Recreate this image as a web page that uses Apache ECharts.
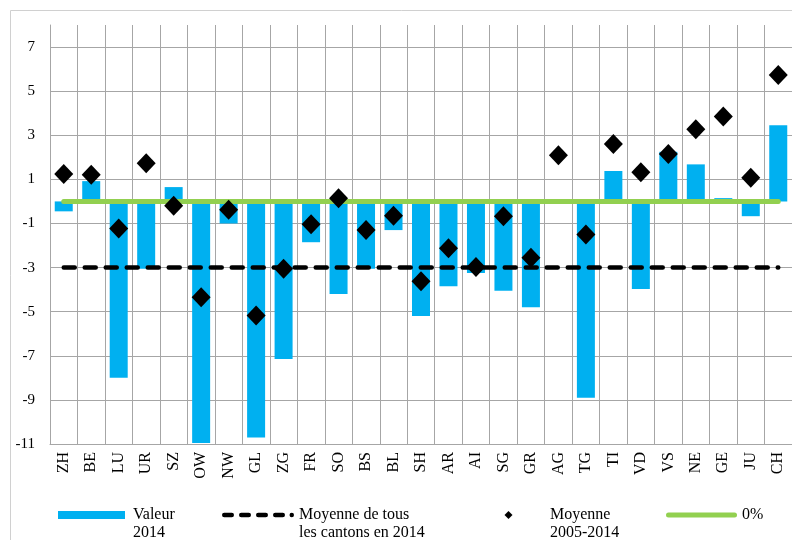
<!DOCTYPE html>
<html>
<head>
<meta charset="utf-8">
<script src="https://cdn.jsdelivr.net/npm/echarts@6/dist/echarts.min.js"></script>
<style>
html,body{margin:0;padding:0;background:#fff;}
#chart{width:792px;height:540px;}
</style>
</head>
<body>
<div id="chart"></div>
<script>
var cantons = ['ZH','BE','LU','UR','SZ','OW','NW','GL','ZG','FR','SO','BS','BL','SH','AR','AI','SG','GR','AG','TG','TI','VD','VS','NE','GE','JU','CH'];
var valeur2014 = [-0.45, 0.92, -8.0, -3.05, 0.65, -10.95, -1.0, -10.7, -7.15, -1.85, -4.2, -3.05, -1.3, -5.2, -3.85, -3.25, -4.05, -4.8, 0, -8.9, 1.38, -3.97, 2.25, 1.68, 0.15, -0.67, 3.45];
var moyenneCantons2014 = [-3, -3, -3, -3, -3, -3, -3, -3, -3, -3, -3, -3, -3, -3, -3, -3, -3, -3, -3, -3, -3, -3, -3, -3, -3, -3, -3];
var moyenne2005_2014 = [1.24, 1.21, -1.23, 1.73, -0.2, -4.34, -0.38, -5.17, -3.05, -1.03, 0.14, -1.3, -0.65, -3.62, -2.12, -2.97, -0.67, -2.55, 2.09, -1.5, 2.6, 1.32, 2.15, 3.27, 3.85, 1.07, 5.73];
var zeroLine = [0, 0, 0, 0, 0, 0, 0, 0, 0, 0, 0, 0, 0, 0, 0, 0, 0, 0, 0, 0, 0, 0, 0, 0, 0, 0, 0];
var seriesNames = ['Valeur\n2014', 'Moyenne de tous\nles cantons en 2014', 'Moyenne\n2005-2014', '0%'];

var FONT = 'Liberation Serif';
var GRID = '#a6a6a6';
var legendText = {fontFamily: FONT, fontSize: 16, color: '#000', lineHeight: 18};
function firstLineOnIcon(name) { return ' \n' + name; }

var chart = echarts.init(document.getElementById('chart'), null, {renderer: 'canvas'});
chart.setOption({
  animation: false,
  backgroundColor: '#fff',
  graphic: [{
    type: 'rect', silent: true, z: -10,
    shape: {x: 10.5, y: 10.5, width: 800, height: 600},
    style: {fill: 'none', stroke: '#d0d0d0', lineWidth: 1}
  }],
  grid: {left: 50, top: 25, width: 743, height: 419},
  legend: [
    {
      left: 58, top: 488, padding: 0, selectedMode: false,
      itemWidth: 67, itemHeight: 8, formatter: firstLineOnIcon,
      data: [{name: seriesNames[0], icon: 'rect', itemStyle: {borderWidth: 0}}],
      textStyle: Object.assign({}, legendText, {padding: [0, 0, 0, 3]})
    },
    {
      left: 222, top: 488, padding: 0, selectedMode: false,
      itemWidth: 72, itemHeight: 4.5, formatter: firstLineOnIcon,
      data: [{name: seriesNames[1], itemStyle: {borderWidth: 0, color: '#000'},
        icon: 'path://M2.25,0h7.5a2.25,2.25 0 0 1 0,4.5h-7.5a2.25,2.25 0 0 1 0,-4.5z M19.25,0h7.5a2.25,2.25 0 0 1 0,4.5h-7.5a2.25,2.25 0 0 1 0,-4.5z M36.25,0h7.5a2.25,2.25 0 0 1 0,4.5h-7.5a2.25,2.25 0 0 1 0,-4.5z M53.25,0h7.5a2.25,2.25 0 0 1 0,4.5h-7.5a2.25,2.25 0 0 1 0,-4.5z M69.75,0a2.25,2.25 0 1 1 0,4.5a2.25,2.25 0 1 1 0,-4.5z'}],
      textStyle: legendText
    },
    {
      left: 504.5, top: 488, padding: 0, selectedMode: false,
      itemWidth: 73, itemHeight: 8, formatter: firstLineOnIcon,
      data: [{name: seriesNames[2], itemStyle: {borderWidth: 0, color: '#000', opacity: 1},
        icon: 'path://M4,0L8,4L4,8L0,4Z'}],
      textStyle: legendText
    },
    {
      left: 666, top: 506, padding: 0, selectedMode: false,
      itemWidth: 71, itemHeight: 5,
      data: [{name: seriesNames[3], itemStyle: {borderWidth: 0, color: '#92d050'},
        icon: 'path://M2.5,0h66a2.5,2.5 0 0 1 0,5h-66a2.5,2.5 0 0 1 0,-5z'}],
      textStyle: legendText
    }
  ],
  xAxis: {
    type: 'category',
    data: cantons,
    boundaryGap: true,
    axisLine: {show: true, onZero: false, lineStyle: {color: GRID, width: 1}},
    axisTick: {show: false},
    axisLabel: {interval: 0, rotate: 90, margin: 8, fontFamily: FONT, fontSize: 16, color: '#000'},
    splitLine: {show: true, interval: 0, lineStyle: {color: GRID, width: 1}}
  },
  yAxis: {
    type: 'value',
    min: -11, max: 8, interval: 2,
    axisLine: {show: true, lineStyle: {color: GRID, width: 1}},
    axisTick: {show: false},
    axisLabel: {margin: 15, fontFamily: FONT, fontSize: 15, color: '#000', showMaxLabel: false},
    splitLine: {show: true, showMaxLine: false, lineStyle: {color: GRID, width: 1}}
  },
  series: [
    {
      name: seriesNames[0], type: 'bar', data: valeur2014,
      barWidth: 18, itemStyle: {color: '#00b0f0'}, z: 2
    },
    {
      name: seriesNames[1], type: 'line', data: moyenneCantons2014,
      symbol: 'none', z: 3,
      lineStyle: {color: '#000', width: 4.5, type: [11, 10], cap: 'round'},
      itemStyle: {color: '#000'}
    },
    {
      name: seriesNames[3], type: 'line', data: zeroLine,
      symbol: 'none', z: 3,
      lineStyle: {color: '#92d050', width: 5, cap: 'round'},
      itemStyle: {color: '#92d050'}
    },
    {
      name: seriesNames[2], type: 'scatter', data: moyenne2005_2014,
      symbol: 'diamond', symbolSize: [19, 20], z: 5,
      itemStyle: {color: '#000', opacity: 1}
    }
  ]
});
</script>
</body>
</html>
